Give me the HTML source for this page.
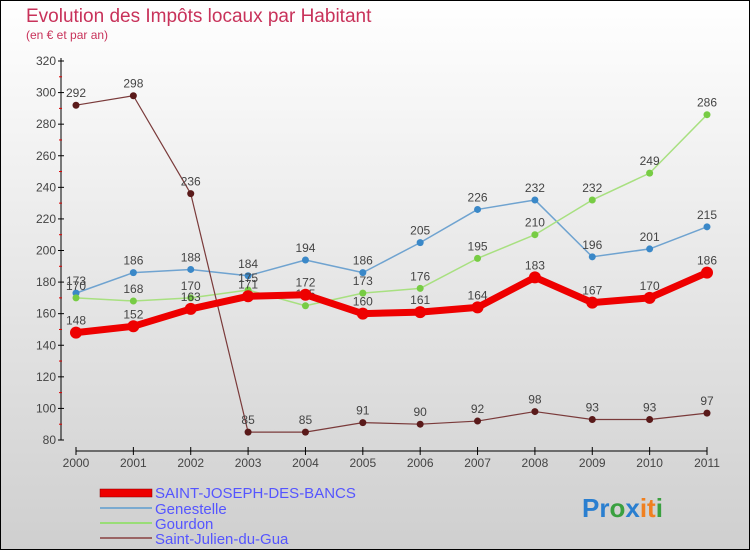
<!DOCTYPE html>
<html><head><meta charset="utf-8"><style>
body{margin:0}
#c{width:750px;height:550px;position:relative;font-family:"Liberation Sans",sans-serif}
</style></head><body>
<div id="c">
<svg id="s" width="750" height="550" xmlns="http://www.w3.org/2000/svg">
<defs><linearGradient id="bg" x1="0" y1="0" x2="0" y2="1"><stop offset="0" stop-color="#ffffff"/><stop offset="1" stop-color="#cfcfcf"/></linearGradient></defs>
<rect x="0.5" y="0.5" width="749" height="549" fill="url(#bg)" stroke="#000"/>
<text x="26" y="22" font-size="19" fill="#c8325a">Evolution des Impôts locaux par Habitant</text>
<text x="26" y="39" font-size="12" fill="#c8325a">(en € et par an)</text>
<g id="axes"></g><g id="series"></g>
<g>
<rect x="100" y="489" width="52" height="8" fill="#e00" stroke="#800" stroke-width="0.5"/>
<text x="155" y="498" font-size="15" fill="#5555ff">SAINT-JOSEPH-DES-BANCS</text>
<line x1="100" y1="508" x2="152" y2="508" stroke="#7aaad0" stroke-width="2"/>
<text x="155" y="514" font-size="15" fill="#5555ff">Genestelle</text>
<line x1="100" y1="523" x2="152" y2="523" stroke="#99dd77" stroke-width="2"/>
<text x="155" y="529" font-size="15" fill="#5555ff">Gourdon</text>
<line x1="100" y1="538" x2="152" y2="538" stroke="#9a6464" stroke-width="2"/>
<text x="155" y="544" font-size="15" fill="#5555ff">Saint-Julien-du-Gua</text>
</g>
<text x="582" y="517" font-size="26" font-weight="bold"><tspan fill="#2a7fd0">Pr</tspan><tspan fill="#3aa040">o</tspan><tspan fill="#2a7fd0">x</tspan><tspan fill="#f08020">it</tspan><tspan fill="#3aa040">i</tspan></text>
</svg>
</div>
<script>
const years=[2000,2001,2002,2003,2004,2005,2006,2007,2008,2009,2010,2011];
const yTicks=[80,100,120,140,160,180,200,220,240,260,280,300,320];
const sjdb=[148,152,163,171,172,160,161,164,183,167,170,186];
const genestelle=[173,186,188,184,194,186,205,226,232,196,201,215];
const gourdon=[170,168,170,175,165,173,176,195,210,232,249,286];
const stjulien=[292,298,236,85,85,91,90,92,98,93,93,97];
const NS="http://www.w3.org/2000/svg";
function xs(i){return 76+i*(707-76)/11;}
function ys(v){return 440-(v-80)*(440-61)/240;}
function mk(t,a,p){const e=document.createElementNS(NS,t);for(const k in a)e.setAttribute(k,a[k]);p.appendChild(e);return e;}
const ax=document.getElementById('axes');
let l=mk('line',{x1:61,y1:58,x2:61,y2:440,stroke:'#000','stroke-width':1},ax);


l=mk('line',{x1:76,y1:451,x2:707,y2:451,stroke:'#000','stroke-width':1},ax);


yTicks.forEach((v,i)=>{
 const y=ys(v);
 mk('line',{x1:58,y1:y,x2:64,y2:y,stroke:'#000'},ax);
 if(i<yTicks.length-1){mk('line',{x1:59,y1:ys(v+10),x2:62,y2:ys(v+10),stroke:'#d00'},ax);}
 const t=mk('text',{x:56,y:y+4,'font-size':12,fill:'#444','text-anchor':'end'},ax);
 t.textContent=v;
 
 
});
years.forEach((yr,i)=>{
 const x=xs(i);
 mk('line',{x1:x,y1:447,x2:x,y2:455,stroke:'#000'},ax);
 const t=mk('text',{x:x,y:467,'font-size':12,fill:'#444','text-anchor':'middle'},ax);
 t.textContent=yr;
 
 
});
const sg=document.getElementById('series');
function draw(vals,color,dot,w,r,name){
 const g=mk('g',{},sg);
 
 
 const pl=mk('polyline',{points:vals.map((v,i)=>xs(i)+','+ys(v)).join(' '),fill:'none',stroke:color,'stroke-width':w,'stroke-linejoin':'round'},g);
 
 
 vals.forEach((v,i)=>{
  const c=mk('circle',{cx:xs(i),cy:ys(v),r:r,fill:dot},g);
  
  
  const t=mk('text',{x:xs(i),y:ys(v)-8,'font-size':12,fill:'#444','text-anchor':'middle'},g);
  t.textContent=v;
  
  
 });
}
draw(genestelle,'#6fa3d0','#3a88c8',1.5,3.5,'genestelle');
draw(gourdon,'#a8e080','#77cc44',1.5,3.5,'gourdon');
draw(stjulien,'#7a3a3a','#5a1a1a',1.2,3.5,'saint-julien');
draw(sjdb,'#ee0000','#ee0000',7,6,'saint-joseph');
</script>
</body></html>
